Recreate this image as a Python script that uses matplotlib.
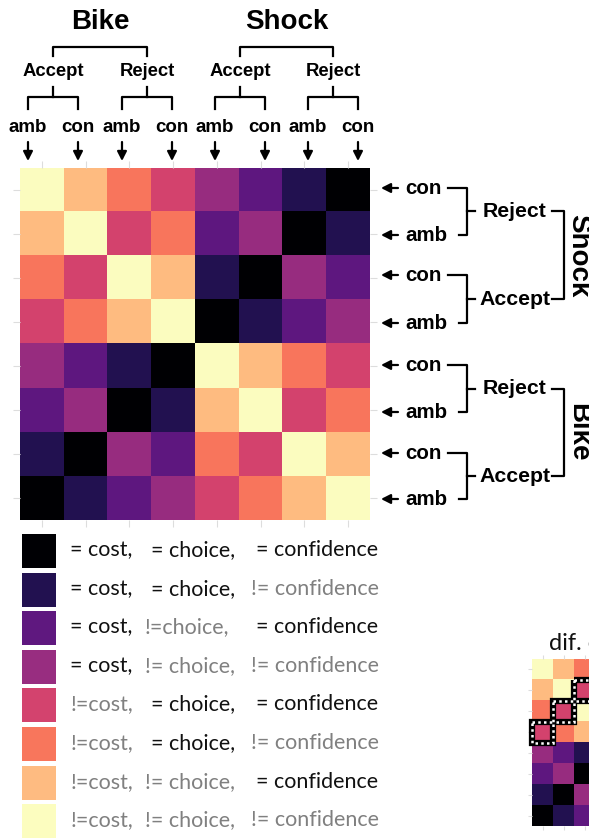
import matplotlib

matplotlib.use("Agg")
import matplotlib.pyplot as plt  # noqa: E402
import numpy as np  # noqa: E402
from matplotlib.patches import Rectangle  # noqa: E402

# similarity level of each condition pair (0 = same cost/choice/confidence, 7 = all different)
sim = np.array(
    [
        [7, 6, 5, 4, 3, 2, 1, 0],
        [6, 7, 4, 5, 2, 3, 0, 1],
        [5, 4, 7, 6, 1, 0, 3, 2],
        [4, 5, 6, 7, 0, 1, 2, 3],
        [3, 2, 1, 0, 7, 6, 5, 4],
        [2, 3, 0, 1, 6, 7, 4, 5],
        [1, 0, 3, 2, 5, 4, 7, 6],
        [0, 1, 2, 3, 4, 5, 6, 7],
    ]
)
col_conf = ["amb", "con"] * 4
col_choice = ["Accept", "Reject"] * 2
col_cost = ["Bike", "Shock"]
row_conf = ["con", "amb"] * 4
row_choice = ["Reject", "Accept"] * 2
row_cost = ["Shock", "Bike"]

levels = np.arange(8)
cost_lbl = ["= cost,"] * 4 + ["!=cost,"] * 4
choice_lbl = ["= choice,", "= choice,", "!=choice,", "!= choice,",
              "= choice,", "= choice,", "!= choice,", "!= choice,"]
conf_lbl = ["= confidence", "!= confidence"] * 4
highlight = 4  # level boxed in the "dif." panel
small_title = "dif. cost"

CMAP = "magma"
GRAY = "#808080"
TICK = "#dddddd"
BOLD = dict(family="Liberation Sans", fontweight="bold", color="k")
LIGHT = dict(family=["Lato", "DejaVu Sans"])

fig = plt.figure(figsize=(5.89, 8.38), dpi=100)


def heat(ax):
    ax.imshow(sim, cmap=CMAP, vmin=0, vmax=7, aspect="auto", interpolation="nearest")
    ax.set_xticks(range(8))
    ax.set_yticks(range(8))
    ax.tick_params(which="both", top=True, right=True, length=5, width=0.8, color=TICK,
                   labelleft=False, labelbottom=False)
    for s in ax.spines.values():
        s.set_visible(False)


# main matrix
ax = fig.add_axes([20 / 589, 1 - 520 / 838, 350 / 589, 352 / 838])
heat(ax)

# small cropped matrix, bottom right
ax2 = fig.add_axes([532 / 589, 12 / 838, 168 / 589, 167 / 838])
heat(ax2)
ax2.tick_params(length=3)
for r, c in zip(*np.where(sim == highlight)):
    ax2.add_patch(Rectangle((c - 0.5, r - 0.5), 1, 1, fill=False, ec="k", lw=4.5,
                            clip_on=False, zorder=5))
    ax2.add_patch(Rectangle((c - 0.5, r - 0.5), 1, 1, fill=False, ec="w", lw=1.8,
                            ls=(0, (1, 1.3)), clip_on=False, zorder=6))

# overlay in pixel coords for brackets, arrows and legend
ov = fig.add_axes([0, 0, 1, 1])
ov.set_xlim(0, 589)
ov.set_ylim(838, 0)
ov.axis("off")
ov.patch.set_visible(False)
LW = 1.6
arrow = dict(arrowstyle="-|>,head_length=0.55,head_width=0.28", color="k", lw=1.6,
             shrinkA=0, shrinkB=0)

# top labels
col_x = [28, 78, 122, 172, 215, 265, 308, 358]
for x, lab in zip(col_x, col_conf):
    ov.text(x, 127, lab, ha="center", va="center", fontsize=13.5, **BOLD)
    ov.annotate("", xy=(x, 161), xytext=(x, 142), arrowprops=arrow)
mids = []
for j, lab in enumerate(col_choice):
    xa, xb = col_x[2 * j], col_x[2 * j + 1]
    xm = (xa + xb) / 2
    mids.append(xm)
    ov.text(xm, 72, lab, ha="center", va="center", fontsize=13.3, **BOLD)
    ov.plot([xa, xa, xb, xb], [109, 97, 97, 109], color="k", lw=LW)
    ov.plot([xm, xm], [97, 87], color="k", lw=LW)
for k, lab in enumerate(col_cost):
    ma, mb = mids[2 * k], mids[2 * k + 1]
    ov.text((ma + mb) / 2, 22, lab, ha="center", va="center", fontsize=20, **BOLD)
    ov.plot([ma, ma, mb, mb], [56, 47, 47, 56], color="k", lw=LW)

# right labels
row_y = [188, 235, 275, 323, 365, 412, 453, 499]
line_start = {"con": 448, "amb": 459}
for y, lab in zip(row_y, row_conf):
    ov.annotate("", xy=(381, y), xytext=(398, y), arrowprops=arrow)
    ov.text(405, y, lab, ha="left", va="center", fontsize=14.8, **BOLD)
rmids = []
for j, lab in enumerate(row_choice):
    ya, yb = row_y[2 * j], row_y[2 * j + 1]
    ym = (ya + yb) / 2
    rmids.append(ym)
    ov.plot([line_start[row_conf[2 * j]], 467, 467, line_start[row_conf[2 * j + 1]]],
            [ya, ya, yb, yb], color="k", lw=LW)
    ov.plot([467, 475], [ym, ym], color="k", lw=LW)
    ov.text(515, ym, lab, ha="center", va="center", fontsize=15.3, **BOLD)
for k, lab in enumerate(row_cost):
    ra, rb = rmids[2 * k], rmids[2 * k + 1]
    ov.plot([552, 564, 564, 552], [ra, ra, rb, rb], color="k", lw=LW)
    ov.text(565, (ra + rb) / 2, lab, ha="left", va="center", rotation=270, fontsize=20, **BOLD)

# legend of similarity levels
cm = plt.get_cmap(CMAP)
for i, lev in enumerate(levels):
    y0 = 534 + i * 38.6
    ov.add_patch(Rectangle((22, y0), 34, 34, color=cm(lev / 7), lw=0))
    yc = y0 + 16
    for lab, xs in ((cost_lbl[i], (70, 71)), (choice_lbl[i], (151, 145)),
                    (conf_lbl[i], (256, 251))):
        diff = lab.startswith("!")
        ov.text(xs[1] if diff else xs[0], yc, lab, ha="left", va="center", fontsize=15.5,
                color=GRAY if diff else "#111111", **LIGHT)

ov.text(549, 643, small_title, ha="left", va="center", fontsize=17, color="#111111", **LIGHT)

fig.savefig("out.png", dpi=100)
